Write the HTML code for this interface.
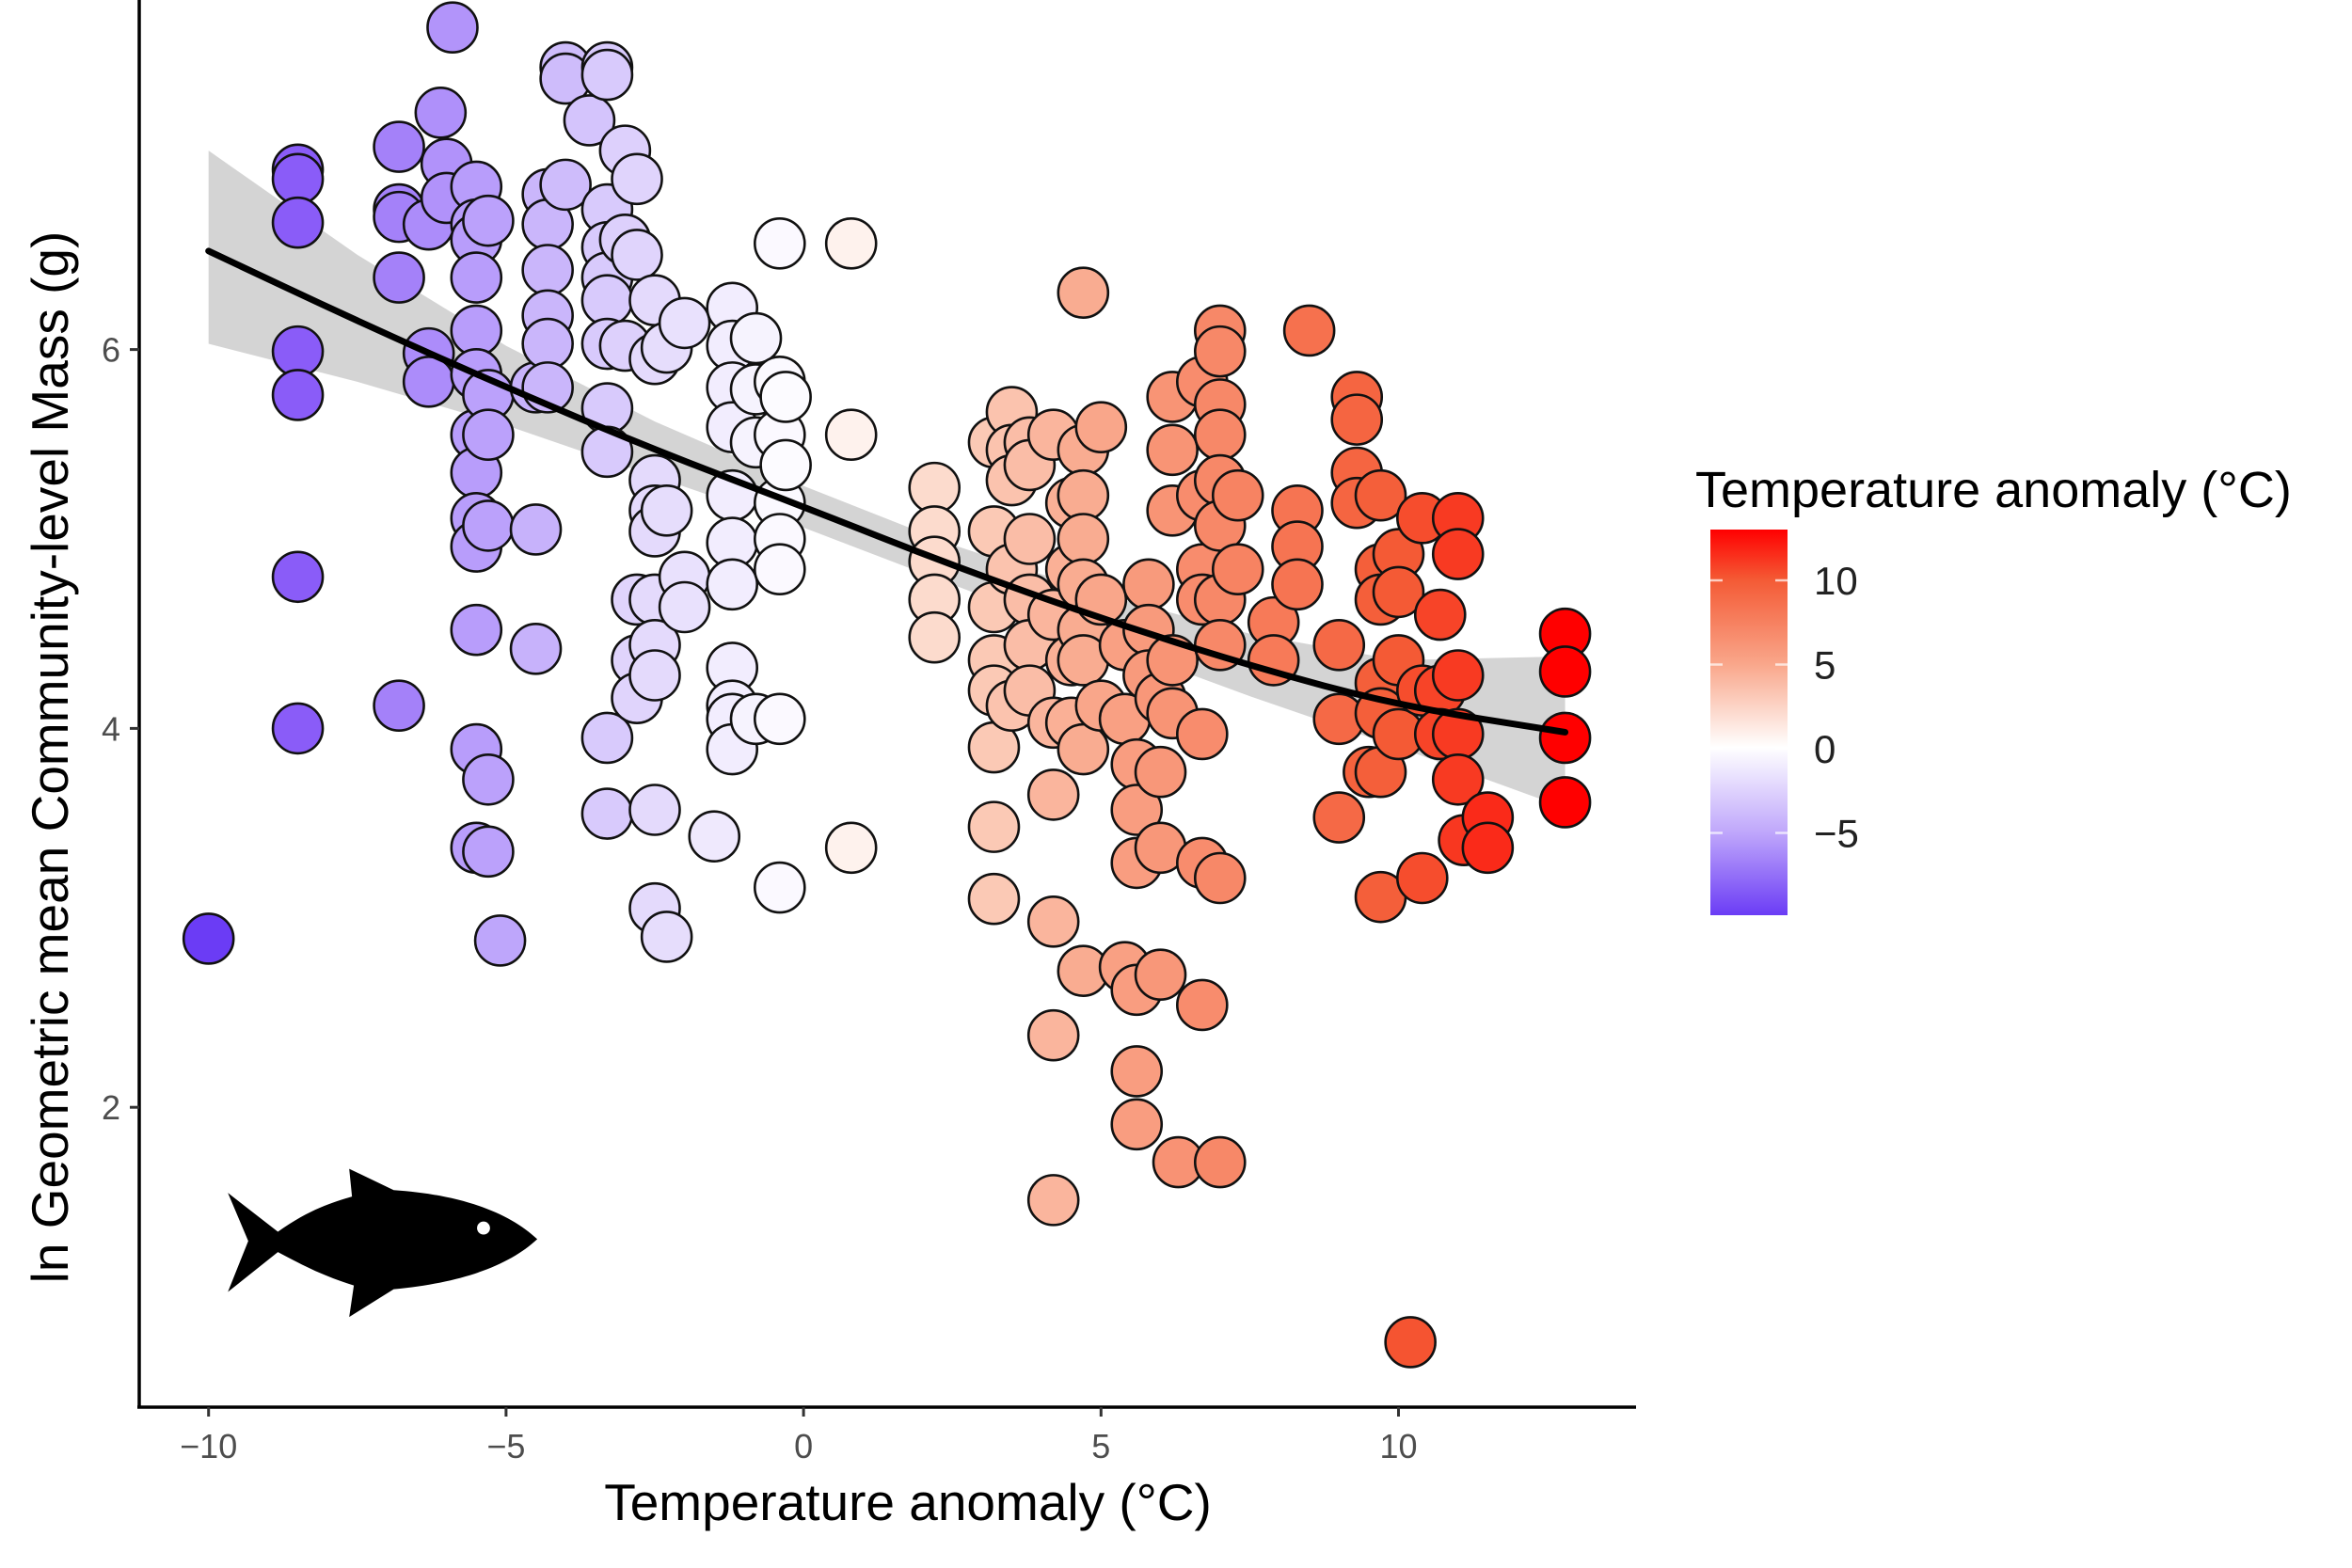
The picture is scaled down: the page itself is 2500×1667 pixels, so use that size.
<!DOCTYPE html>
<html><head><meta charset="utf-8"><style>
html,body{margin:0;padding:0;background:#fff;}
svg{display:block;font-family:"Liberation Sans",sans-serif;}
</style></head><body>
<svg id="chart" width="2500" height="1667" viewBox="0 0 2500 1667" xmlns="http://www.w3.org/2000/svg">
<defs>
<linearGradient id="cbar" x1="0" y1="1" x2="0" y2="0">
<stop offset="0" stop-color="#6b3cf5"/>
<stop offset="0.217" stop-color="#c0a8fb"/>
<stop offset="0.435" stop-color="#ffffff"/>
<stop offset="0.652" stop-color="#f9a68a"/>
<stop offset="0.87" stop-color="#f45a35"/>
<stop offset="1" stop-color="#ff0000"/>
</linearGradient>
</defs>
<g id="band-layer"></g>
<g id="points"></g>
<g id="fitline"></g>
<line x1="148" y1="0" x2="148" y2="1497" stroke="#000" stroke-width="3.5"/>
<line x1="146" y1="1496" x2="1739" y2="1496" stroke="#000" stroke-width="3.5"/>
<g id="xticks"></g>
<g id="yticks"></g>
<text x="965" y="1616" font-size="55" text-anchor="middle" fill="#000">Temperature anomaly (°C)</text>
<text transform="translate(72,805) rotate(-90)" font-size="55" text-anchor="middle" fill="#000">ln Geometric mean Community-level Mass (g)</text>
<g transform="scale(0.9846)">
<path d="M246,1288 L300,1330 C335,1305 360,1298 380,1292 L377,1262 L425,1285 C500,1290 550,1310 580,1338 C550,1366 500,1385 425,1392 L377,1422 L382,1388 C350,1378 330,1368 300,1352 L246,1395 L268,1340 Z" fill="#000"/>
<circle cx="522" cy="1326" r="7" fill="#fff"/>
</g>
<g>
<text x="1802" y="539" font-size="54" fill="#000">Temperature anomaly (°C)</text>
<rect x="1818" y="563" width="82" height="410" fill="url(#cbar)"/>
<g id="legticks"></g>
</g>
</svg>
<script>
const px = [-10,-8.5,-8.5,-8.5,-8.5,-8.5,-8.5,-8.5,-6.8,-6.8,-6.8,-6.8,-6.8,-6.3,-6.1,-5.9,-6,-6,-6.3,-6.3,
-5.5,-5.5,-5.5,-5.5,-5.5,-5.5,-5.5,-5.5,-5.5,-5.5,-5.5,-5.5,-5.5,-5.3,-5.3,-5.3,-5.3,-5.3,-5.3,-5.1,
-4.5,-4.5,-4.5,-4.3,-4.3,-4.3,-4.3,-4.3,-4.3,-4,-4,-4,-3.6,
-3.3,-3.3,-3.3,-3.3,-3.3,-3.3,-3.3,-3.3,-3.3,-3.3,-3.3,-3,-3,-3,-2.8,-2.8,-2.8,-2.8,-2.8,
-2.5,-2.5,-2.5,-2.5,-2.5,-2.5,-2.5,-2.5,-2.5,-2.5,-2.3,-2.3,-2.3,-2,-2,-2,-1.5,
-1.2,-1.2,-1.2,-1.2,-1.2,-1.2,-1.2,-1.2,-1.2,-1.2,-1.2,-0.8,-0.8,-0.8,-0.8,
-0.4,-0.4,-0.4,-0.4,-0.4,-0.4,-0.4,-0.4,-0.3,-0.3,0.8,0.8,0.8,
2.2,2.2,2.2,2.2,2.2,3.2,3.2,3.2,3.2,3.2,3.2,3.2,3.2,3.5,3.5,3.5,3.5,3.5,3.8,3.8,3.8,3.8,3.8,3.8,
4.2,4.2,4.2,4.2,4.2,4.2,4.2,4.5,4.5,4.5,4.5,4.7,4.7,4.7,4.7,4.7,4.7,4.7,4.7,4.7,5,5,5,
5.4,5.4,5.4,5.6,5.6,5.6,5.6,5.6,5.6,5.8,5.8,5.8,6,6,6,6,6.2,6.2,6.2,6.2,6.2,6.3,
6.7,6.7,6.7,6.7,6.7,6.7,6.7,7,7,7,7,7,7,7,7,7,7,7.3,7.3,7.9,7.9,8.3,8.3,8.3,8.5,
9,9,9,9.3,9.3,9.3,9.3,9.5,9.7,9.7,9.7,9.7,9.7,9.7,9.7,10,10,10,10,10.2,10.4,10.4,10.4,
10.7,10.7,10.7,11,11,11,11,11,11.1,11.5,11.5,12.8,12.8,12.8,12.8];
const py = [2.89,6.95,6.9,6.67,5.99,5.76,4.8,4.0,7.07,6.74,6.7,6.38,4.12,6.66,7.25,7.7,6.98,6.8,5.98,5.83,
6.86,6.66,6.58,6.38,6.1,5.87,5.55,5.35,5.11,4.96,4.52,3.89,3.37,6.68,5.76,5.55,5.07,3.73,3.35,2.88,
5.05,4.42,5.8,6.82,6.66,6.42,6.18,6.03,5.8,7.49,7.43,6.87,7.21,
7.49,7.45,6.74,6.54,6.38,6.26,6.03,5.69,5.46,3.95,3.55,7.05,6.58,6.02,6.9,6.5,4.68,4.36,4.16,
6.26,5.95,5.31,5.15,5.04,4.68,4.44,4.28,3.57,3.05,6.01,5.15,2.9,6.14,4.8,4.64,3.43,
6.22,6.02,5.8,5.59,5.23,4.98,4.76,4.32,4.12,4.05,3.89,6.06,5.79,5.51,4.05,
6.56,5.83,5.55,5.19,5.0,4.84,4.05,3.16,5.75,5.39,6.56,5.55,3.37,
5.27,5.04,4.88,4.68,4.48,5.51,5.04,4.64,4.36,4.2,3.9,3.48,3.1,5.67,5.47,5.31,4.84,4.12,5.51,5.39,5.0,4.68,4.44,4.2,
5.55,4.6,4.03,3.65,2.98,2.38,1.51,5.19,4.84,4.36,4.03,6.3,5.47,5.23,5.0,4.76,4.52,4.36,3.89,2.72,5.59,4.68,4.12,
4.44,4.05,2.74,3.81,3.57,3.29,2.62,2.19,1.91,4.76,4.52,4.28,4.16,3.77,3.37,2.7,5.75,5.47,5.15,4.36,4.08,1.71,
5.83,5.23,4.84,4.68,3.97,3.29,2.54,6.1,5.99,5.71,5.55,5.31,5.07,4.68,4.44,3.21,1.71,5.23,4.84,4.56,4.36,5.15,4.96,4.76,6.1,
4.44,4.05,3.53,5.75,5.63,5.35,5.19,3.77,5.23,4.84,4.68,4.24,4.08,3.77,3.11,4.92,4.72,4.36,3.97,0.76,5.11,4.2,3.21,
4.6,4.2,3.97,5.11,4.92,4.28,3.97,3.73,3.41,3.53,3.37,4.5,4.3,3.95,3.61];
const fitX = [-10,-7.5,-5,-2.5,0,2.5,5,7.5,10,12.8];
const fitY = [6.52,6.15,5.8,5.47,5.17,4.86,4.58,4.33,4.12,3.98];
const ciLo = [6.03,5.83,5.6,5.33,5.06,4.76,4.46,4.17,3.9,3.58];
const ciHi = [7.05,6.5,6.02,5.62,5.28,4.97,4.71,4.5,4.36,4.38];
const xTicks = [-10,-5,0,5,10];
const yTicks = [2,4,6];
const legTicks = [-5,0,5,10];

const NS='http://www.w3.org/2000/svg';
const X = v => 854.1 + v*63.24;
const Y = v => 1580.0 - v*201.4;
const L = v => 796 - v*17.9;
function mk(tag, attrs, parent){const e=document.createElementNS(NS,tag);for(const k in attrs)e.setAttribute(k,attrs[k]);parent.appendChild(e);return e;}
const cStops=[[-10,[107,60,245]],[-8.5,[138,92,248]],[-5,[192,168,251]],[-2.5,[228,218,252]],[0,[255,255,255]],[2.5,[252,214,198]],[5,[249,166,138]],[7.5,[247,128,95]],[10,[244,90,53]],[12.8,[255,0,0]]];
function col(v){
  if(v<=cStops[0][0]) return 'rgb('+cStops[0][1].join(',')+')';
  for(let i=1;i<cStops.length;i++){
    if(v<=cStops[i][0]){const a=cStops[i-1],b=cStops[i];const t=(v-a[0])/(b[0]-a[0]);
      return 'rgb('+a[1].map((c,k)=>Math.round(c+(b[1][k]-c)*t)).join(',')+')';}
  }
  return 'rgb(255,0,0)';
}
const pts=document.getElementById('points');
for(let i=0;i<px.length;i++){
  const c=mk('circle',{cx:X(px[i]),cy:Y(py[i]),r:26.5,fill:col(px[i]),stroke:'#111','stroke-width':2.6},pts);
  
  
}
let d='';
for(let i=0;i<fitX.length;i++) d+=(i?'L':'M')+X(fitX[i])+','+Y(ciHi[i]);
for(let i=fitX.length-1;i>=0;i--) d+='L'+X(fitX[i])+','+Y(ciLo[i]);
const band=mk('path',{d:d+'Z',fill:'#a0a0a0','fill-opacity':0.45},document.getElementById('band-layer'));


let ld='';
for(let i=0;i<fitX.length;i++){
  if(i===0) ld='M'+X(fitX[0])+','+Y(fitY[0]);
  else { const xm=(X(fitX[i-1])+X(fitX[i]))/2; ld+='Q'+X(fitX[i-1])+','+Y(fitY[i-1])+' '+xm+','+(Y(fitY[i-1])+Y(fitY[i]))/2; }
}
ld+='L'+X(fitX[fitX.length-1])+','+Y(fitY[fitY.length-1]);
const fl=mk('path',{d:ld,fill:'none',stroke:'#000','stroke-width':7,'stroke-linecap':'round'},document.getElementById('fitline'));


const xt=document.getElementById('xticks');
xTicks.forEach(v=>{
  const t=mk('line',{x1:X(v),x2:X(v),y1:1496,y2:1506,stroke:'#333','stroke-width':3},xt);
  
  
  const tx=mk('text',{x:X(v),y:1550,'font-size':36,'text-anchor':'middle',fill:'#4d4d4d'},xt);
  
  
  tx.textContent=(v<0?'\u2212'+(-v):String(v));
});
const yt=document.getElementById('yticks');
yTicks.forEach(v=>{
  const t=mk('line',{x1:138,x2:148,y1:Y(v),y2:Y(v),stroke:'#333','stroke-width':3},yt);
  
  
  const tx=mk('text',{x:128,y:Y(v)+13,'font-size':36,'text-anchor':'end',fill:'#4d4d4d'},yt);
  
  
  tx.textContent=String(v);
});
const lt=document.getElementById('legticks');
legTicks.forEach(v=>{
  const a=mk('line',{x1:1818,x2:1831,y1:L(v),y2:L(v),stroke:'#fff','stroke-width':2.5,'stroke-opacity':0.7},lt);
  
  
  const b=mk('line',{x1:1887,x2:1900,y1:L(v),y2:L(v),stroke:'#fff','stroke-width':2.5,'stroke-opacity':0.7},lt);
  
  
  const tx=mk('text',{x:1928,y:L(v)+15,'font-size':42,fill:'#222'},lt);
  
  
  tx.textContent=(v<0?'\u2212'+(-v):String(v));
});
</script>
</body></html>
